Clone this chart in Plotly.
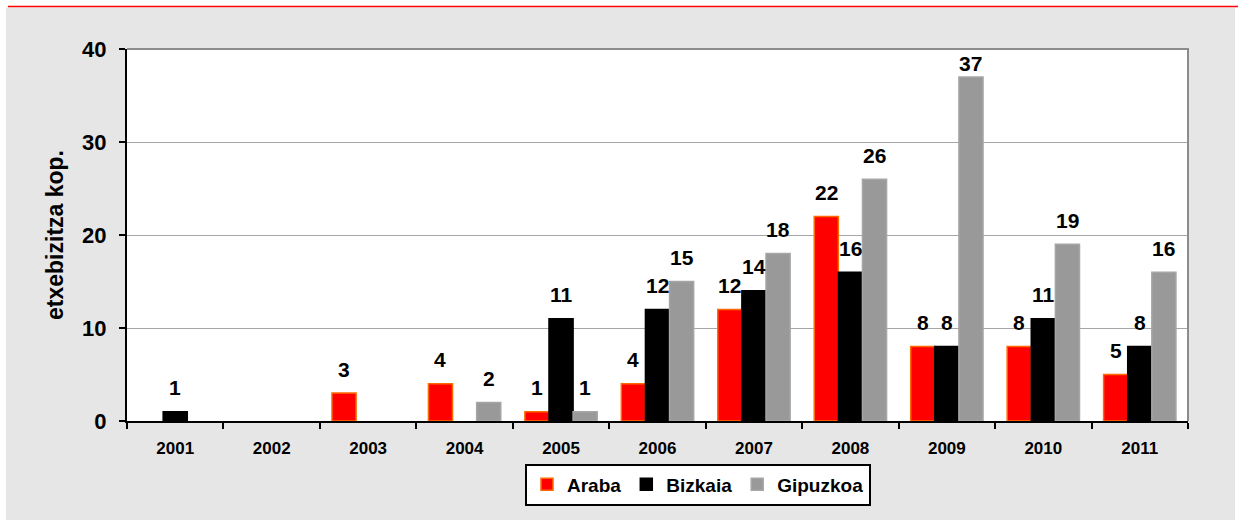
import plotly.graph_objects as go

years = ["2001", "2002", "2003", "2004", "2005", "2006", "2007", "2008", "2009", "2010", "2011"]
araba = [0, 0, 3, 4, 1, 4, 12, 22, 8, 8, 5]
bizkaia = [1, 0, 0, 0, 11, 12, 14, 16, 8, 11, 8]
gipuzkoa = [0, 0, 0, 2, 1, 15, 18, 26, 37, 19, 16]
series_names = ["Araba", "Bizkaia", "Gipuzkoa"]
y_ticks = [0, 10, 20, 30, 40]
y_title = "etxebizitza kop."

W, H = 1238, 520
ML, MR, MT, MB = 127, 50, 49, 99
PW, PH = W - ML - MR, H - MT - MB
FONT = "Arial, 'Liberation Sans', sans-serif"

fills = ["#ff0000", "#000000", "#999999"]
edges = ["#ff6a00", "#000000", "#a6a6a6"]

fig = go.Figure()
for name, vals, fc, ec in zip(series_names, [araba, bizkaia, gipuzkoa], fills, edges):
    fig.add_trace(go.Bar(
        name=name, x=years, y=[v if v else None for v in vals],
        marker=dict(color=fc, line=dict(color=ec, width=1.5)),
    ))

# value labels
ppu = PH / 40.0
bar_px = PW / len(years) * 0.75 / 3
annotations = []
for i, vals in enumerate([araba, bizkaia, gipuzkoa]):
    for j, v in enumerate(vals):
        if v:
            ys = min(24, (40 - v) * ppu - 14)
            annotations.append(dict(
                x=j, y=v, xref="x", yref="y", text=str(v),
                showarrow=False, xshift=(i - 1) * bar_px, yshift=ys,
                yanchor="middle", xanchor="center",
                font=dict(family=FONT, size=21, color="black", weight="bold"),
            ))

def px_x(p):
    return (p - ML) / PW

def px_y(p):
    return (H - MB - p) / PH

shapes = [
    dict(type="rect", xref="paper", yref="paper", x0=px_x(-5), x1=px_x(W + 5),
         y0=px_y(7.5), y1=px_y(-5), fillcolor="white", line=dict(width=0), layer="above"),
    dict(type="rect", xref="paper", yref="paper", x0=px_x(-5), x1=px_x(6),
         y0=px_y(H + 5), y1=px_y(-5), fillcolor="white", line=dict(width=0), layer="above"),
    dict(type="rect", xref="paper", yref="paper", x0=px_x(1235), x1=px_x(W + 5),
         y0=px_y(H + 5), y1=px_y(-5), fillcolor="white", line=dict(width=0), layer="above"),
    dict(type="line", xref="paper", yref="paper", x0=px_x(8), x1=px_x(W + 2),
         y0=px_y(6.5), y1=px_y(6.5), line=dict(color="#ff0000", width=1.5), layer="above"),
    dict(type="path", xref="paper", yref="paper", path="M 0 1 L 1 1 L 1 0",
         line=dict(color="#8c8c8c", width=2), layer="above"),
]

fig.update_layout(
    width=W, height=H,
    margin=dict(l=ML, r=MR, t=MT, b=MB, pad=0, autoexpand=False),
    paper_bgcolor="#e6e6e6", plot_bgcolor="white",
    barmode="group", bargap=0.25, bargroupgap=0,
    font=dict(family=FONT, color="black"),
    showlegend=True,
    legend=dict(
        orientation="h", x=px_x(698), y=px_y(484.5), xanchor="center", yanchor="middle",
        bgcolor="white", bordercolor="black", borderwidth=2,
        font=dict(family=FONT, size=19, color="black", weight="bold"),
        itemwidth=30, traceorder="normal",
    ),
    xaxis=dict(
        type="category", automargin=False, showline=True, linecolor="black", linewidth=2,
        ticks="outside", tickson="boundaries", ticklen=6, tickwidth=2, tickcolor="black",
        tickfont=dict(family=FONT, size=17, color="black", weight="bold"),
        ticklabelstandoff=11, showgrid=False,
    ),
    yaxis=dict(
        range=[0, 40], tickvals=y_ticks, automargin=False,
        showline=True, linecolor="black", linewidth=2,
        ticks="outside", ticklen=6, tickwidth=2, tickcolor="black",
        tickfont=dict(family=FONT, size=22, color="black", weight="bold"),
        ticklabelstandoff=8,
        showgrid=True, gridcolor="#a6a6a6", gridwidth=1, zeroline=False,
        title=dict(text=y_title, font=dict(family=FONT, size=23, color="black", weight="bold"),
                   standoff=12),
    ),
    annotations=annotations,
    shapes=shapes,
)

fig.write_html(
    "out.html",
    config={"displayModeBar": False},
    post_script="document.body.style.margin='0';document.body.style.overflow='hidden';",
)
